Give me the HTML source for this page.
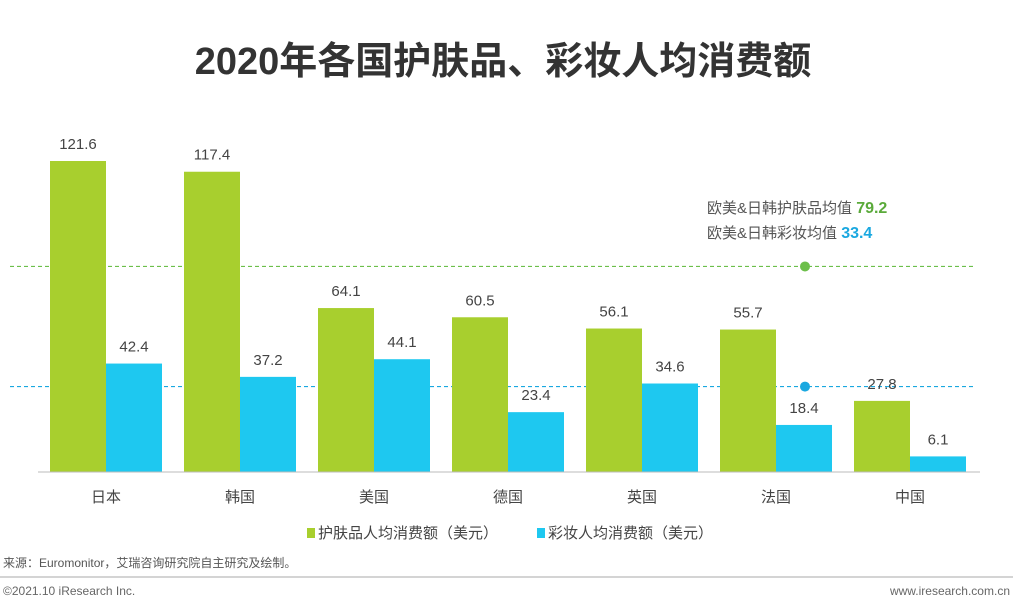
<!DOCTYPE html>
<html><head><meta charset="utf-8"><style>
body{margin:0;background:#fff;width:1013px;height:604px;overflow:hidden;font-family:"Liberation Sans","Noto Sans CJK SC",sans-serif}
</style></head><body>
<svg id="c" width="1013" height="604" style="font-family:'Liberation Sans','Noto Sans CJK SC',sans-serif">
<text x="503" y="74" text-anchor="middle" font-size="38" font-weight="bold" fill="#333">2020年各国护肤品、彩妆人均消费额</text>
<g id="bars"></g>
<line x1="38" y1="472" x2="980" y2="472" stroke="#bbb" stroke-width="1"/>
<text x="707" y="213" font-size="15" fill="#555">欧美&amp;日韩护肤品均值 <tspan font-weight="bold" font-size="16" fill="#5aaa3a">79.2</tspan></text>
<text x="707" y="238" font-size="15" fill="#555">欧美&amp;日韩彩妆均值 <tspan font-weight="bold" font-size="16" fill="#1aa8e0">33.4</tspan></text>
<g>
<rect x="307" y="528" width="8" height="10" fill="#a8cf2e"/>
<text x="318" y="538" font-size="15" fill="#444">护肤品人均消费额（美元）</text>
<rect x="537" y="528" width="8" height="10" fill="#1ec8f0"/>
<text x="548" y="538" font-size="15" fill="#444">彩妆人均消费额（美元）</text>
</g>
<text x="3" y="567" font-size="12" fill="#555">来源：Euromonitor，艾瑞咨询研究院自主研究及绘制。</text>
<line x1="0" y1="577" x2="1013" y2="577" stroke="#aaa"/>
<text x="3" y="595" font-size="12" fill="#666">©2021.10 iResearch Inc.</text>
<text x="1010" y="595" font-size="12" fill="#666" text-anchor="end">www.iresearch.com.cn</text>
</svg>
<script>
const categories=["日本","韩国","美国","德国","英国","法国","中国"];
const skincare=[121.6,117.4,64.1,60.5,56.1,55.7,27.8];
const makeup=[42.4,37.2,44.1,23.4,34.6,18.4,6.1];
const averages=[79.2,33.4];
const base=472,k=311/121.6;
function y(v){return base-v*k;}
function gx(i){return 50+134*i;}
const ns="http://www.w3.org/2000/svg",g=document.getElementById('bars');
function mk(t,a){const e=document.createElementNS(ns,t);for(const q in a)e.setAttribute(q,a[q]);g.appendChild(e);return e;}
const avgCol=["#6cbf4a","#1aa8e0"];
averages.forEach((v,j)=>{
 const l=mk('line',{x1:10,x2:975,y1:y(v)-(j?0:3),y2:y(v)-(j?0:3),stroke:avgCol[j],'stroke-width':1.2,'stroke-dasharray':'4,3'});
 
 
 const c=mk('circle',{cx:805,cy:y(v)-(j?0:3),r:5,fill:avgCol[j]});
 
 
});
categories.forEach((cat,i)=>{
 const x=gx(i);
 [[skincare[i],"#a8cf2e",0,'skincare'],[makeup[i],"#1ec8f0",56,'makeup']].forEach(([v,col,off,nm])=>{
  const r=mk('rect',{x:x+off,y:y(v),width:56,height:v*k,fill:col});
  
  
  const t=mk('text',{x:x+off+28,y:y(v)-12,'text-anchor':'middle','font-size':15,fill:'#444'});
  t.textContent=v.toFixed(1);
  
  
 });
 const t=mk('text',{x:x+56,y:502,'text-anchor':'middle','font-size':15,fill:'#444'});
 t.textContent=cat;
 
 
});
</script>
</body></html>
